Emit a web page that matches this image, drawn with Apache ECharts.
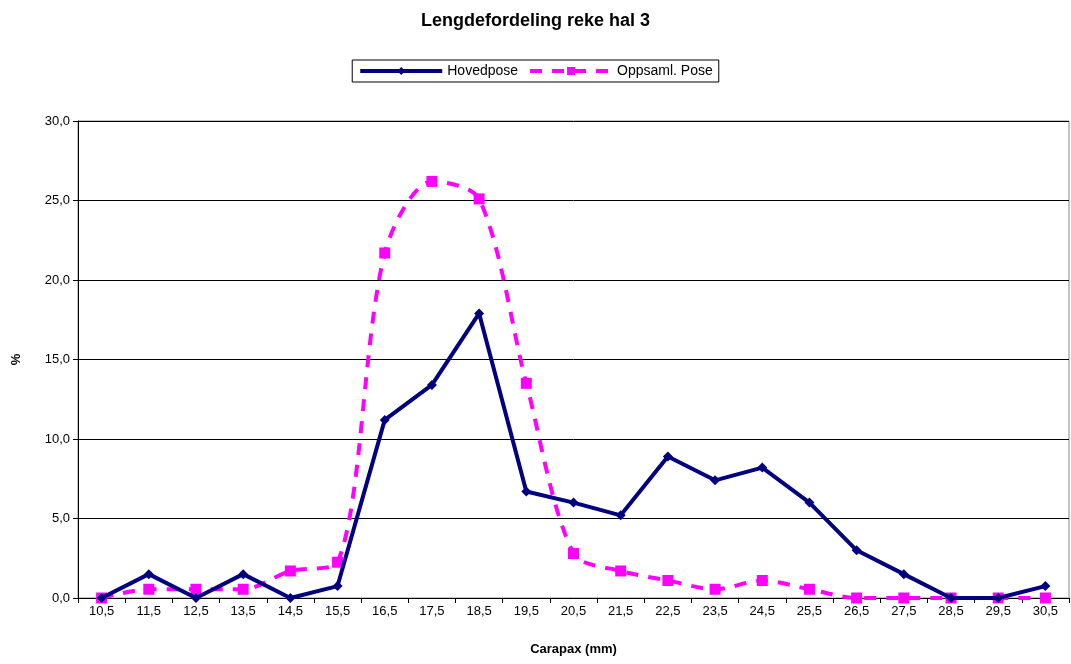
<!DOCTYPE html>
<html>
<head>
<meta charset="utf-8">
<script src="https://cdn.jsdelivr.net/npm/echarts@6/dist/echarts.min.js"></script>
<style>
  html, body { margin: 0; padding: 0; background: #fff; }
  #chart { width: 1071px; height: 664px; }
</style>
</head>
<body>
<div id="chart"></div>
<script>
// lengdeklasser (carapax, mm)
const categories = ['10,5', '11,5', '12,5', '13,5', '14,5', '15,5', '16,5', '17,5', '18,5', '19,5', '20,5',
  '21,5', '22,5', '23,5', '24,5', '25,5', '26,5', '27,5', '28,5', '29,5', '30,5'];
const hovedpose = [0, 1.5, 0, 1.5, 0, 0.75, 11.2, 13.4, 17.9, 6.7, 6.0,
  5.2, 8.9, 7.4, 8.2, 6.0, 3.0, 1.5, 0, 0, 0.75];
const oppsamlPose = [0, 0.55, 0.55, 0.55, 1.7, 2.25, 21.7, 26.2, 25.1, 13.5, 2.8,
  1.7, 1.1, 0.55, 1.1, 0.55, 0, 0, 0, 0, 0];

const chart = echarts.init(document.getElementById('chart'));
const font = 'Liberation Sans, Arial, sans-serif';

const option = {
  animation: false,
  textStyle: { fontFamily: font },
  title: {
    text: 'Lengdefordeling reke hal 3',
    left: 'center',
    top: 7,
    textStyle: { fontSize: 18, fontWeight: 'bold', color: '#000', fontFamily: font }
  },
  legend: {
    top: 60,
    left: 'center',
    itemWidth: 82,
    itemHeight: 10,
    itemGap: 10,
    padding: [4, 6],
    borderColor: '#000',
    borderWidth: 1,
    borderRadius: 0,
    lineStyle: { width: 4 },
    textStyle: { fontSize: 14, color: '#000', fontFamily: font },
    data: ['Hovedpose', 'Oppsaml. Pose']
  },
  grid: {
    left: 78,
    right: 2,
    top: 121,
    bottom: 66,
    show: true,
    borderColor: '#888',
    borderWidth: 1
  },
  xAxis: {
    type: 'category',
    data: categories,
    boundaryGap: true,
    name: 'Carapax (mm)',
    nameLocation: 'middle',
    nameGap: 45,
    nameTextStyle: { fontSize: 13, fontWeight: 'bold', color: '#000' },
    axisLine: { lineStyle: { color: '#000', width: 1 } },
    axisTick: { show: true, alignWithLabel: false, length: 5, lineStyle: { color: '#000' } },
    axisLabel: { fontSize: 13, color: '#000', margin: 7 }
  },
  yAxis: {
    type: 'value',
    min: 0,
    max: 30,
    interval: 5,
    name: '%',
    nameLocation: 'middle',
    nameGap: 55,
    nameRotate: 90,
    nameTextStyle: { fontSize: 13, fontWeight: 'bold', color: '#000' },
    axisLine: { show: true, lineStyle: { color: '#000', width: 1 } },
    axisTick: { show: true, length: 5, lineStyle: { color: '#000' } },
    axisLabel: {
      fontSize: 13, color: '#000', margin: 8,
      formatter: v => v.toFixed(1).replace('.', ',')
    },
    splitLine: { show: true, lineStyle: { color: '#000', width: 1 } }
  },
  series: [
    {
      name: 'Hovedpose',
      type: 'line',
      data: hovedpose,
      symbol: 'diamond',
      symbolSize: 10,
      color: '#000080',
      lineStyle: { color: '#000080', width: 4 },
      itemStyle: { color: '#000080' },
      z: 3
    },
    {
      name: 'Oppsaml. Pose',
      type: 'line',
      data: oppsamlPose,
      smooth: 0.3,
      symbol: 'rect',
      symbolSize: 11,
      color: '#ff00ff',
      lineStyle: { color: '#ff00ff', width: 4, type: [12, 10] },
      itemStyle: { color: '#ff00ff' },
      z: 2
    }
  ]
};

chart.setOption(option);
</script>
</body>
</html>
